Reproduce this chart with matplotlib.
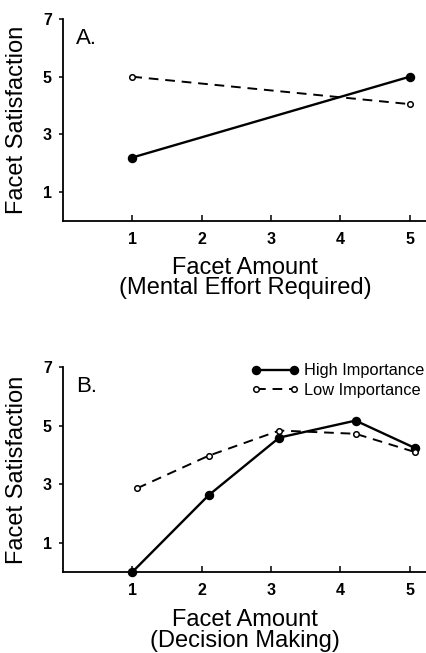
import matplotlib
matplotlib.use("Agg")
import matplotlib.pyplot as plt

plt.rcParams['font.family'] = ['Liberation Sans', 'DejaVu Sans']

# Panel A: Mental Effort Required
a_x = [1, 5]
a_high = [2.2, 5.0]
a_low = [5.0, 4.05]

# Panel B: Decision Making
b_x_high = [1.0, 2.1, 3.12, 4.22, 5.07]
b_high = [0.0, 2.62, 4.59, 5.17, 4.24]
b_x_low = [1.07, 2.1, 3.12, 4.22, 5.07]
b_low = [2.86, 3.97, 4.83, 4.72, 4.10]

x_ticks = [1, 2, 3, 4, 5]
y_ticks = [1, 3, 5, 7]
x_labels = ["Facet Amount\n(Mental Effort Required)", "Facet Amount\n(Decision Making)"]
panel_letters = ["A.", "B."]
series_names = ["High Importance", "Low Importance"]

W, H = 427, 653
fig = plt.figure(figsize=(W / 100, H / 100), dpi=100)

def px_axes(left, top, right, bottom):
    return fig.add_axes([left / W, 1 - bottom / H, (right - left) / W, (bottom - top) / H])

axA = px_axes(63, 19, 427, 221)
axB = px_axes(63, 367, 427, 572)

solid_kw = dict(color='black', lw=1.7, marker='o', markersize=5.8,
                markerfacecolor='black', markeredgecolor='black', clip_on=False)
dash_kw = dict(color='black', lw=1.4, ls=(0, (5, 3.5)), marker='o', markersize=4.0,
               markerfacecolor='white', markeredgecolor='black', markeredgewidth=1.1,
               clip_on=False)

axA.plot(a_x, a_high, label=series_names[0], **solid_kw)
axA.plot(a_x, a_low, label=series_names[1], **dash_kw)

axB.plot(b_x_high, b_high, label=series_names[0], zorder=3, **solid_kw)
axB.plot(b_x_low, b_low, label=series_names[1], zorder=3, **dash_kw)

for ax, xl, letter, lp in zip([axA, axB], x_labels, panel_letters, [7, 8]):
    ax.set_xlim(0, 5.25)
    ax.set_ylim(0, 7)
    ax.set_xticks(x_ticks)
    ax.set_yticks(y_ticks)
    ax.set_xticklabels([str(t) for t in x_ticks], fontsize=11.5, fontweight='bold')
    ax.set_yticklabels([str(t) for t in y_ticks], fontsize=11.5, fontweight='bold')
    ax.tick_params(axis='x', direction='in', length=4, width=1.1, pad=8)
    ax.tick_params(axis='y', direction='out', length=3, width=1.1, pad=5)
    for s in ['top', 'right']:
        ax.spines[s].set_visible(False)
    for s in ['left', 'bottom']:
        ax.spines[s].set_linewidth(1.3)
    ax.set_xlabel(xl, fontsize=17, linespacing=0.9, labelpad=lp)
    ax.set_ylabel("Facet Satisfaction", fontsize=17)
    ax.yaxis.set_label_coords(-0.095, 0.5)
    ax.text(0.035, 0.905, letter, transform=ax.transAxes, fontsize=16,
            va='center', ha='left')

axB.legend(loc='upper right', bbox_to_anchor=(1.01, 1.05), frameon=False, numpoints=2,
           handlelength=2.9, handletextpad=0.3, labelspacing=0.3, fontsize=11.8,
           borderaxespad=0)

fig.savefig("out.png", dpi=100)
